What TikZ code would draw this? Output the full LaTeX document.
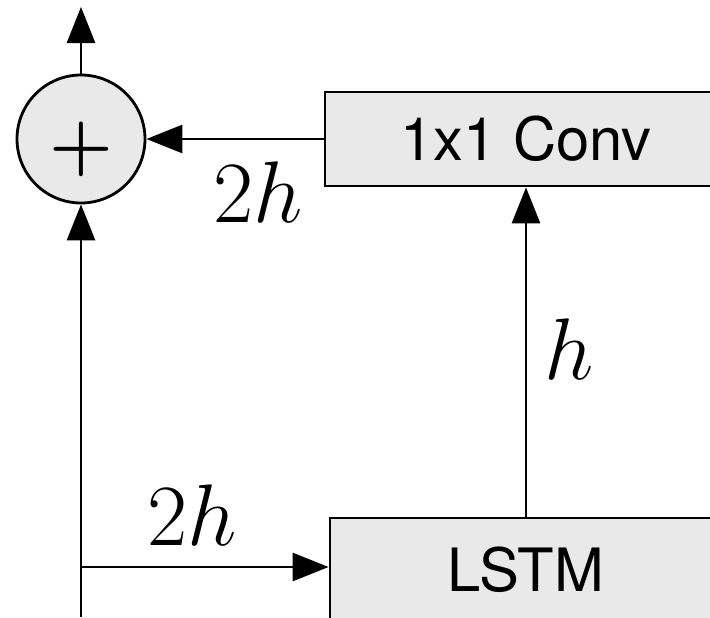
\documentclass[tikz,border=0pt]{standalone}
\usepackage{fontspec}
\setsansfont{TeX Gyre Heros}
\usetikzlibrary{arrows.meta, positioning}
\definecolor{boxgray}{RGB}{233, 233, 233}
\tikzset{
  blk/.style     = {rectangle, draw=black, fill=boxgray, line width=0.8pt, minimum height=0.94cm, inner sep=0pt, font=\fontsize{17}{20}\selectfont\sffamily},
  sumnode/.style = {circle, draw=black, fill=boxgray, line width=0.8pt, minimum size=1.28cm, inner sep=0pt, font=\fontsize{20.74}{24}\selectfont\boldmath},
  flow/.style    = {-{Triangle[length=3.6mm, width=2.8mm]}, line width=0.8pt, black},
  lbl/.style     = {inner sep=0pt, font=\Huge},
}

\begin{document}
\begin{tikzpicture}
  \clip (0,0) rectangle (7.10,6.17);
  \node[sumnode] (sum) at (0.81,4.78) {\smash{\raisebox{-2.9mm}{$+$}}};
  \node[blk, minimum width=4.02cm] (conv) at (5.26,4.78) {1x1 Conv};
  \node[blk, minimum width=3.92cm, minimum height=1.04cm] (lstm) at (5.26,0.47) {LSTM};
  \coordinate (in) at (0.81,0);
  \coordinate (split) at (0.81,0.50);
  \coordinate (out) at (0.81,6.10);

  \draw[flow] (in) -- (sum);
  \draw[flow] (sum) -- (out);
  \draw[flow] (split) -- node (lbllow) [lbl, above=0.2cm, pos=0.45] {$2h$} (split -| lstm.west);
  \draw[flow] (lstm.north) -- node (lblh) [lbl, right=0.17cm, pos=0.51] {$h$} (conv.south);
  \draw[flow] (conv.west) -- node (lbltop) [lbl, below=0.21cm, pos=0.37] {$2h$} (sum.east);
\end{tikzpicture}
\end{document}
